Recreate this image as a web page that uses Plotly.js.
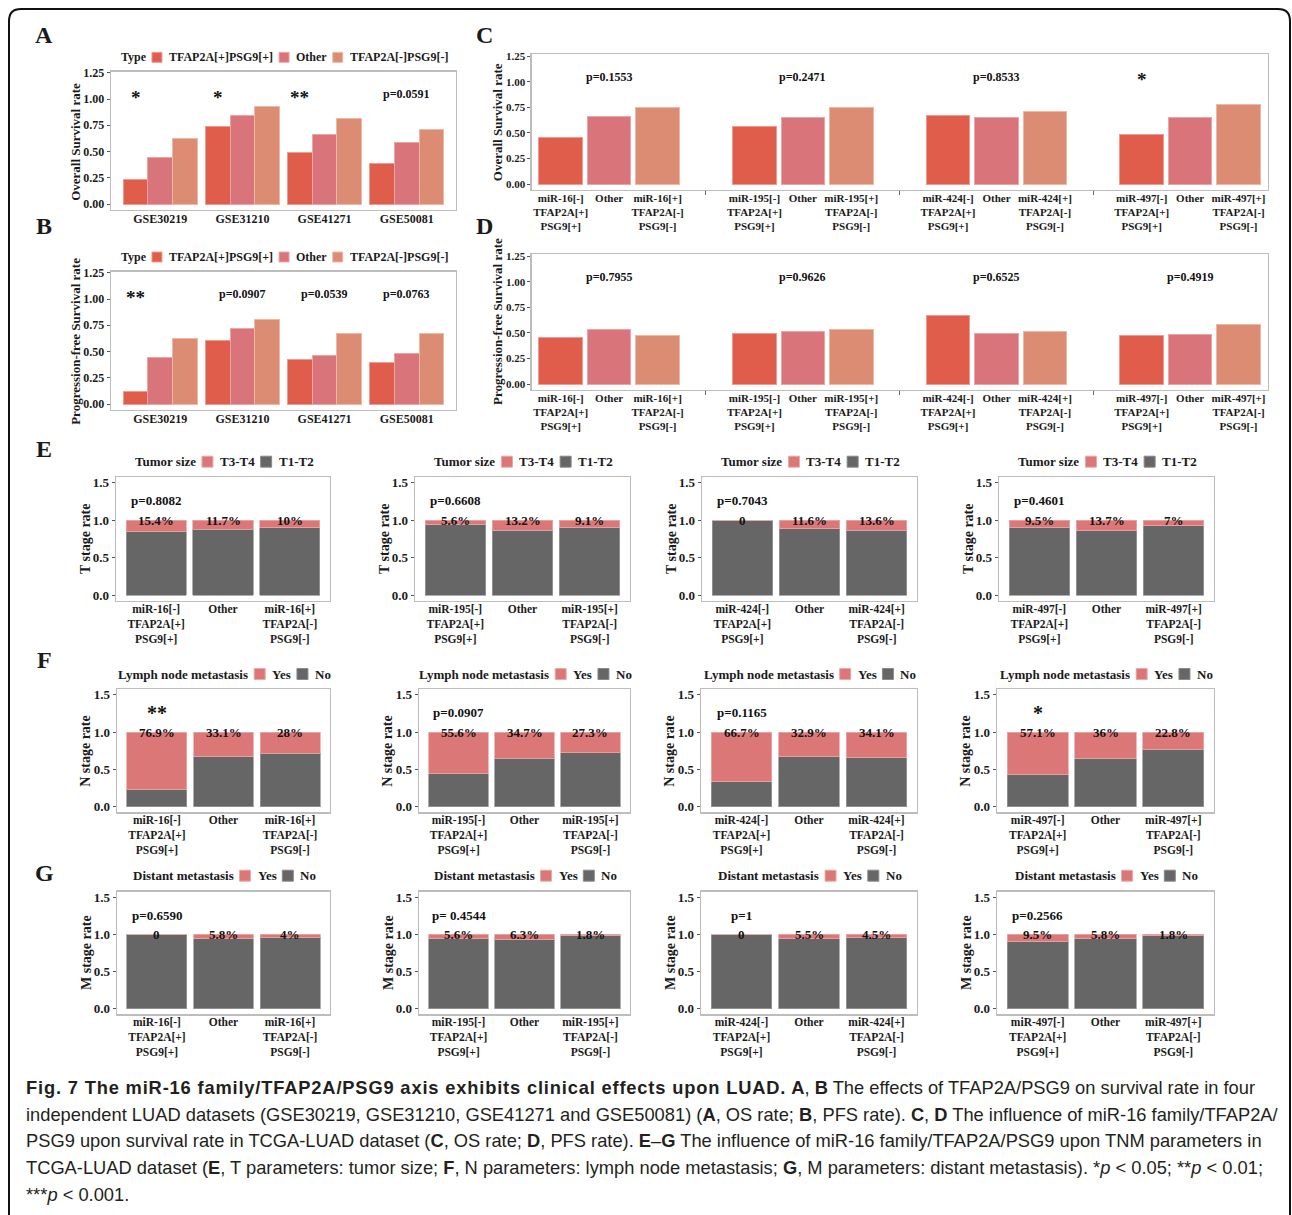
<!DOCTYPE html>
<html>
<head>
<meta charset="utf-8">
<script src="https://cdn.plot.ly/plotly-3.0.1.min.js"></script>
<style>
html, body { margin:0; padding:0; background:#ffffff; }
#chart { width:1292px; height:1215px; }
</style>
</head>
<body>
<div id="chart"></div>
<script>
// ================= DATA =================
const geoDatasets = ['GSE30219', 'GSE31210', 'GSE41271', 'GSE50081'];
const typeLegendTitle = 'Type';
const typeLabels = ['TFAP2A[+]PSG9[+]', 'Other', 'TFAP2A[-]PSG9[-]'];

const geoOsPosPos  = [0.235, 0.739, 0.495, 0.384];
const geoOsOther   = [0.447, 0.847, 0.660, 0.587];
const geoOsNegNeg  = [0.628, 0.930, 0.819, 0.711];
const geoOsSig     = ['*', '*', '**', 'p=0.0591'];

const geoPfsPosPos = [0.117, 0.609, 0.428, 0.397];
const geoPfsOther  = [0.447, 0.717, 0.466, 0.479];
const geoPfsNegNeg = [0.628, 0.809, 0.669, 0.669];
const geoPfsSig    = ['**', 'p=0.0907', 'p=0.0539', 'p=0.0763'];

const mirFamilies  = ['miR-16', 'miR-195', 'miR-424', 'miR-497'];
const tcgaOsPosPos = [0.458, 0.562, 0.672, 0.481];
const tcgaOsOther  = [0.662, 0.653, 0.653, 0.653];
const tcgaOsNegNeg = [0.744, 0.753, 0.705, 0.773];
const tcgaOsSig    = ['p=0.1553', 'p=0.2471', 'p=0.8533', '*'];

const tcgaPfsPosPos = [0.460, 0.499, 0.672, 0.480];
const tcgaPfsOther  = [0.532, 0.512, 0.499, 0.490];
const tcgaPfsNegNeg = [0.480, 0.532, 0.519, 0.581];
const tcgaPfsSig    = ['p=0.7955', 'p=0.9626', 'p=0.6525', 'p=0.4919'];

// percentage (%) of the upper class in each group: [miR-[-]TFAP2A[+]PSG9[+], Other, miR-[+]TFAP2A[-]PSG9[-]]
const tumorSizeT3T4 = [[15.4, 11.7, 10], [5.6, 13.2, 9.1], [0, 11.6, 13.6], [9.5, 13.7, 7]];
const tumorSizeSig  = ['p=0.8082', 'p=0.6608', 'p=0.7043', 'p=0.4601'];
const lymphNodeYes  = [[76.9, 33.1, 28], [55.6, 34.7, 27.3], [66.7, 32.9, 34.1], [57.1, 36, 22.8]];
const lymphNodeSig  = ['**', 'p=0.0907', 'p=0.1165', '*'];
const distantMetYes = [[0, 5.8, 4], [5.6, 6.3, 1.8], [0, 5.5, 4.5], [9.5, 5.8, 1.8]];
const distantMetSig = ['p=0.6590', 'p= 0.4544', 'p=1', 'p=0.2566'];

const tumorKeys = ['T3-T4', 'T1-T2'];
const yesNoKeys = ['Yes', 'No'];

const survTickVals = [0, 0.25, 0.5, 0.75, 1, 1.25];
const survTickText = ['0.00', '0.25', '0.50', '0.75', '1.00', '1.25'];
const rateTickVals = [0, 0.5, 1, 1.5];
const rateTickText = ['0.0', '0.5', '1.0', '1.5'];

const captionTitle = 'Fig. 7 The miR-16 family/TFAP2A/PSG9 axis exhibits clinical effects upon LUAD.';
const captionLines = [
  ' <b>A</b>, <b>B</b> The effects of TFAP2A/PSG9 on survival rate in four',
  'independent LUAD datasets (GSE30219, GSE31210, GSE41271 and GSE50081) (<b>A</b>, OS rate; <b>B</b>, PFS rate). <b>C</b>, <b>D</b> The influence of miR-16 family/TFAP2A/',
  'PSG9 upon survival rate in TCGA-LUAD dataset (<b>C</b>, OS rate; <b>D</b>, PFS rate). <b>E</b>–<b>G</b> The influence of miR-16 family/TFAP2A/PSG9 upon TNM parameters in',
  'TCGA-LUAD dataset (<b>E</b>, T parameters: tumor size; <b>F</b>, N parameters: lymph node metastasis; <b>G</b>, M parameters: distant metastasis). *<i>p</i> &lt; 0.05; **<i>p</i> &lt; 0.01;',
  '***<i>p</i> &lt; 0.001.'
];

function tcgaTickText(fam) {
  return [fam + '[-]<br>TFAP2A[+]<br>PSG9[+]', 'Other', fam + '[+]<br>TFAP2A[-]<br>PSG9[-]'];
}

// ================= STYLE / GEOMETRY =================
const W = 1292, H = 1215;
const SERIF = "'Liberation Serif', 'Times New Roman', serif";
const SANS = "'Liberation Sans', Arial, sans-serif";
const INK = '#1a1a1a';
const typeColors = ['#E05D4B', '#D9757A', '#DB8C73'];
const typeEdges  = ['#EE9C8F', '#EBA5A8', '#EDB9A6'];
const stackRed = '#DB7777', stackRedEdge = '#EBA9A9';
const stackGrey = '#666666', stackGreyEdge = '#9A9A9A';

const xP = x => x / W;
const yP = y => 1 - y / H;

const layout = {
  width: W, height: H,
  margin: {l: 0, r: 0, t: 0, b: 0},
  paper_bgcolor: '#ffffff', plot_bgcolor: '#ffffff',
  barmode: 'stack', showlegend: false, hovermode: false,
  font: {family: SERIF, color: INK},
  annotations: [], shapes: []
};
const traces = [];
let axCount = 0;

function boxAxes(box, xrange, yrange, xt, yt, ytSize, xTickSize, extraX) {
  axCount++;
  const xk = axCount === 1 ? 'xaxis' : 'xaxis' + axCount;
  const yk = axCount === 1 ? 'yaxis' : 'yaxis' + axCount;
  const xr = axCount === 1 ? 'x' : 'x' + axCount;
  const yr = axCount === 1 ? 'y' : 'y' + axCount;
  const common = {
    showline: true, mirror: true, linecolor: '#BDBDBD', linewidth: 1.3,
    showgrid: false, zeroline: false, fixedrange: true, automargin: false
  };
  layout[xk] = Object.assign({}, common, {
    domain: [xP(box.l), xP(box.r)], anchor: yr, range: xrange,
    tickmode: 'array', tickvals: xt.vals, ticktext: xt.text, tickangle: 0,
    ticks: '',
    tickfont: {family: SERIF, size: xTickSize, color: INK, weight: 'bold'}
  }, extraX || {});
  layout[yk] = Object.assign({}, common, {
    domain: [yP(box.b), yP(box.t)], anchor: xr, range: yrange,
    tickmode: 'array', tickvals: yt.vals, ticktext: yt.text,
    ticks: 'outside', ticklen: 3, tickcolor: '#555',
    tickfont: {family: SERIF, size: ytSize, color: INK, weight: 'bold'}
  });
  return {x: xr, y: yr};
}

function paperText(text, x, y, size, opts) {
  layout.annotations.push(Object.assign({
    text: text, xref: 'paper', yref: 'paper', x: xP(x), y: yP(y),
    xanchor: 'center', yanchor: 'middle', showarrow: false, borderpad: 0,
    font: {family: SERIF, size: size, color: INK, weight: 'bold'}
  }, opts || {}));
}

const canvas = document.createElement('canvas');
const ctx = canvas.getContext('2d');
function measureRich(str, size, family, baseBold) {
  let bold = !!baseBold, ital = false, w = 0;
  str.split(/(<\/?[bi]>)/).forEach(p => {
    if (p === '<b>') bold = true;
    else if (p === '</b>') bold = false;
    else if (p === '<i>') ital = true;
    else if (p === '</i>') ital = false;
    else if (p) {
      ctx.font = (ital ? 'italic ' : '') + (bold ? 'bold ' : '') + size + 'px ' + family;
      w += ctx.measureText(p.replace(/&lt;/g, '<')).width;
    }
  });
  return w;
}

function drawLegend(title, labels, colors, edges, cx, cy, size, key) {
  const g1 = 7, g2 = 6;
  const wT = measureRich(title, size, SERIF, true);
  const ws = labels.map(l => measureRich(l, size, SERIF, true));
  const total = wT + ws.reduce((s, w) => s + g1 + key + g2 + w, 0);
  let x = cx - total / 2;
  paperText(title, x, cy, size, {xanchor: 'left'});
  x += wT;
  labels.forEach((lab, i) => {
    x += g1;
    layout.shapes.push({type: 'rect', xref: 'paper', yref: 'paper',
      x0: xP(x), x1: xP(x + key), y0: yP(cy + key / 2), y1: yP(cy - key / 2),
      fillcolor: colors[i], line: {color: edges[i], width: 1}});
    x += key + g2;
    paperText(lab, x, cy, size, {xanchor: 'left'});
    x += ws[i];
  });
}

// ================= PANELS A, B (GEO) =================
const geoPanels = [
  {box: {l: 111, t: 71.7, r: 456, b: 210}, series: [geoOsPosPos, geoOsOther, geoOsNegNeg], sig: geoOsSig,
   ytitle: 'Overall Survival rate', legendY: 57.3},
  {box: {l: 111, t: 271.7, r: 456, b: 410}, series: [geoPfsPosPos, geoPfsOther, geoPfsNegNeg], sig: geoPfsSig,
   ytitle: 'Progression-free Survival rate', legendY: 257}
];
geoPanels.forEach(p => {
  const ax = boxAxes(p.box, [0.4, 4.6], [-0.057, 1.26],
    {vals: geoDatasets.map((_, g) => g + 1), text: geoDatasets},
    {vals: survTickVals, text: survTickText}, 12, 12, {ticklabelstandoff: -3});
  p.series.forEach((vals, i) => {
    traces.push({type: 'bar', xaxis: ax.x, yaxis: ax.y,
      x: geoDatasets.map((_, g) => g + 1 + (i - 1) * 0.3), y: vals, width: 0.3,
      name: typeLabels[i], marker: {color: typeColors[i], line: {color: typeEdges[i], width: 1}}});
  });
  p.sig.forEach((s, g) => {
    const star = s.charAt(0) === '*';
    layout.annotations.push({text: s, xref: ax.x, yref: ax.y, x: star ? g + 1 - 0.3 : g + 1, y: 1.045,
      showarrow: false, xanchor: 'center', yanchor: 'middle', yshift: star ? -3 : 0,
      font: {family: SERIF, size: star ? 19 : 12, color: '#111', weight: 'bold'}});
  });
  drawLegend(typeLegendTitle, typeLabels, typeColors, typeEdges, (p.box.l + p.box.r) / 2, p.legendY, 12, 10);
  paperText(p.ytitle, 76, (p.box.t + p.box.b) / 2 + 1, 13, {textangle: -90});
});

// ================= PANELS C, D (TCGA survival) =================
const tcgaPanels = [
  {box: {l: 531.7, t: 54.3, r: 1267.6, b: 190}, series: [tcgaOsPosPos, tcgaOsOther, tcgaOsNegNeg], sig: tcgaOsSig,
   ytitle: 'Overall Survival rate', yr: [-0.056, 1.267]},
  {box: {l: 531.7, t: 254, r: 1267.6, b: 390}, series: [tcgaPfsPosPos, tcgaPfsOther, tcgaPfsNegNeg], sig: tcgaPfsSig,
   ytitle: 'Progression-free Survival rate', yr: [-0.056, 1.27]}
];
const tcgaVals = [], tcgaText = [];
mirFamilies.forEach((f, g) => tcgaTickText(f).forEach((t, i) => { tcgaVals.push(g * 4 + i); tcgaText.push(t); }));
tcgaPanels.forEach(p => {
  const ax = boxAxes(p.box, [-0.6, 14.6], p.yr,
    {vals: tcgaVals, text: tcgaText}, {vals: survTickVals, text: survTickText}, 11, 11,
    {ticklabelstandoff: -3,
     minor: {tickmode: 'array', tickvals: [3, 7, 11], ticks: 'outside', ticklen: 4, tickcolor: '#666'}});
  p.series.forEach((vals, i) => {
    traces.push({type: 'bar', xaxis: ax.x, yaxis: ax.y,
      x: mirFamilies.map((_, g) => g * 4 + i), y: vals, width: 0.9,
      name: typeLabels[i], marker: {color: typeColors[i], line: {color: typeEdges[i], width: 1}}});
  });
  p.sig.forEach((s, g) => {
    const star = s.charAt(0) === '*';
    layout.annotations.push({text: s, xref: ax.x, yref: ax.y, x: star ? g * 4 : g * 4 + 1, y: 1.05,
      showarrow: false, xanchor: 'center', yanchor: 'middle', yshift: star ? -3 : 0,
      font: {family: SERIF, size: star ? 19 : 12, color: '#111', weight: 'bold'}});
  });
  paperText(p.ytitle, 497, (p.box.t + p.box.b) / 2, 13, {textangle: -90});
});

// ================= PANELS E, F, G (TNM) =================
const tnmRows = [
  {title: 'Tumor size', keys: tumorKeys, ytitle: 'T stage rate', values: tumorSizeT3T4, sig: tumorSizeSig,
   top: 477.3, bottom: 600.7, legendY: 461.7, cols: [[116, 330], [415, 630], [702, 917], [999, 1214]]},
  {title: 'Lymph node metastasis', keys: yesNoKeys, ytitle: 'N stage rate', values: lymphNodeYes, sig: lymphNodeSig,
   top: 689.3, bottom: 812.3, legendY: 674, cols: [[117, 330], [419, 630], [701, 917], [997, 1214]]},
  {title: 'Distant metastasis', keys: yesNoKeys, ytitle: 'M stage rate', values: distantMetYes, sig: distantMetSig,
   top: 891.7, bottom: 1014.3, legendY: 875.7, cols: [[117, 330], [419, 630], [701, 917], [997, 1214]]}
];
tnmRows.forEach(row => {
  row.cols.forEach((c, k) => {
    const box = {l: c[0], r: c[1], t: row.top, b: row.bottom};
    const ax = boxAxes(box, [0.4, 3.6], [-0.075, 1.575],
      {vals: [1, 2, 3], text: tcgaTickText(mirFamilies[k])}, {vals: rateTickVals, text: rateTickText}, 13, 11.5,
      {ticklabelstandoff: -3});
    const upper = row.values[k];
    traces.push({type: 'bar', xaxis: ax.x, yaxis: ax.y, x: [1, 2, 3], y: upper.map(v => 1 - v / 100), width: 0.9,
      name: row.keys[1], marker: {color: stackGrey, line: {color: stackGreyEdge, width: 0.8}}});
    traces.push({type: 'bar', xaxis: ax.x, yaxis: ax.y, x: [1, 2, 3], y: upper.map(v => v / 100), width: 0.9,
      name: row.keys[0], marker: {color: stackRed, line: {color: stackRedEdge, width: 0.8}}});
    upper.forEach((v, i) => {
      layout.annotations.push({text: v === 0 ? '0' : v + '%', xref: ax.x, yref: ax.y, x: i + 1, y: 1.0,
        showarrow: false, xanchor: 'center', yanchor: 'middle',
        font: {family: SERIF, size: 13, color: '#111', weight: 'bold'}});
    });
    const s = row.sig[k], star = s.charAt(0) === '*';
    layout.annotations.push({text: s, xref: ax.x, yref: ax.y, x: 1, y: 1.26,
      showarrow: false, xanchor: 'center', yanchor: 'middle',
      font: {family: SERIF, size: star ? 20 : 13, color: '#111', weight: 'bold'}});
    drawLegend(row.title, row.keys, [stackRed, stackGrey], [stackRedEdge, '#8a8a8a'], (box.l + box.r) / 2, row.legendY, 13, 11);
    paperText(row.ytitle, box.l - 31, (box.t + box.b) / 2, 14, {textangle: -90});
  });
});

// ================= PANEL LETTERS =================
[['A', 44, 35], ['B', 44, 226], ['C', 484, 35], ['D', 484, 226], ['E', 44, 449], ['F', 44, 660], ['G', 44, 873]]
  .forEach(l => paperText(l[0], l[1], l[2], 24));

// ================= CAPTION =================
// font size from the reference line lengths of lines 2-4; bold title tracked to its reference length
const capTargets = [1253, 1253, 1255];
const capSize = Math.max(14, Math.min(21,
  Math.min.apply(null, capTargets.map((t, i) => 20 * t / measureRich(captionLines[i + 1], 20, SANS, false)))));
const titleTarget = 760;
const titleW = measureRich('<b>' + captionTitle + '</b>', capSize, SANS, false);
const titleLS = Math.max(0, Math.min(1.6, (titleTarget - titleW) / captionTitle.length));
const capY = [1087, 1114, 1140, 1167, 1194];
captionLines.forEach((line, i) => {
  const txt = i === 0
    ? '<span style="font-weight:bold;letter-spacing:' + titleLS.toFixed(2) + 'px">' + captionTitle + '</span>' + line
    : line;
  paperText(txt, 25, capY[i], capSize, {xanchor: 'left',
    font: {family: SANS, size: capSize, color: '#231F20', weight: 'normal'}});
});

// ================= FRAME =================
const fr = {l: 9, t: 9, r: 1290, b: 1260, rad: 12};
layout.shapes.push({type: 'path', xref: 'paper', yref: 'paper', line: {color: '#111111', width: 2},
  path: `M ${xP(fr.l)},${yP(fr.b)} L ${xP(fr.l)},${yP(fr.t + fr.rad)} Q ${xP(fr.l)},${yP(fr.t)} ${xP(fr.l + fr.rad)},${yP(fr.t)} ` +
        `L ${xP(fr.r - fr.rad)},${yP(fr.t)} Q ${xP(fr.r)},${yP(fr.t)} ${xP(fr.r)},${yP(fr.t + fr.rad)} L ${xP(fr.r)},${yP(fr.b)}`});

Plotly.newPlot('chart', traces, layout, {staticPlot: true, displayModeBar: false});
</script>
</body>
</html>
